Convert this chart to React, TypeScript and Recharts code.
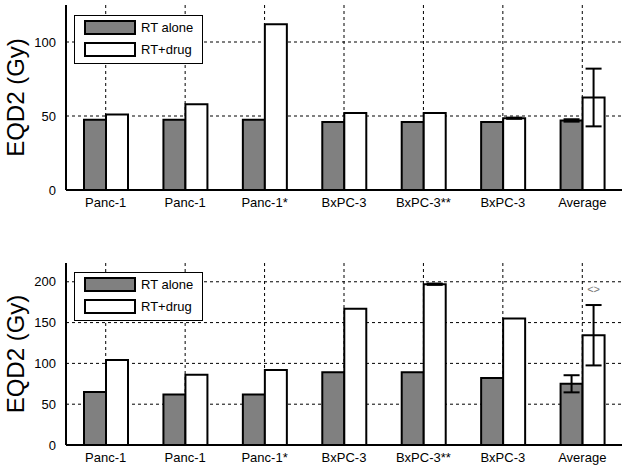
import React from "react";
import {
    BarChart,
    Bar,
    XAxis,
    YAxis,
    CartesianGrid,
    ErrorBar,
    Legend,
    LabelList,
} from "recharts";

// cell lines, same for both panels
const categories = [
    "Panc-1",
    "Panc-1",
    "Panc-1*",
    "BxPC-3",
    "BxPC-3**",
    "BxPC-3",
    "Average",
];

// top panel
const topAlone = [47.5, 47.5, 47.5, 46, 46, 46, 47];
const topDrug = [51, 58, 112, 52, 52, 48.5, 62.5];
const topAloneErr = [0, 0, 0, 0, 0, 0, 0.8];
const topDrugErr = [0, 0, 0, 0, 0, 0.4, 19.5];
const topTicks = [0, 50, 100];

// bottom panel
const botAlone = [65, 62, 62, 89, 89, 82, 75];
const botDrug = [104, 86, 92, 167, 197, 155, 134.5];
const botAloneErr = [0, 0, 0, 0, 0, 0, 10.5];
const botDrugErr = [0, 0, 0, 0, 0.8, 0, 37];
const botNotes = ["", "", "", "", "", "", "<>"];
const botTicks = [0, 50, 100, 150, 200];

const FONT = "'Liberation Sans', Arial, sans-serif";

function buildRows(
    alone: number[],
    drug: number[],
    aloneErr: number[],
    drugErr: number[],
    notes?: string[]
) {
    return categories.map((name, i) => ({
        name,
        alone: alone[i],
        drug: drug[i],
        aloneErr: aloneErr[i],
        drugErr: drugErr[i],
        note: notes ? notes[i] : "",
    }));
}

const LegendBox = (props: any) => {
    const payload = props.payload ?? [];
    return (
        <div
            style={{
                border: "1px solid #000",
                background: "#fff",
                width: 118,
                padding: "4px 0 6px 9px",
                boxSizing: "content-box",
                fontFamily: FONT,
                fontSize: 13,
                textAlign: "left",
            }}
        >
            {payload.map((p: any, i: number) => (
                <div
                    key={i}
                    style={{
                        display: "flex",
                        alignItems: "center",
                        marginTop: i === 0 ? 0 : 7,
                        height: 15,
                    }}
                >
                    <div
                        style={{
                            width: 48,
                            height: 11,
                            border: "2px solid #000",
                            background: p.color,
                        }}
                    />
                    <span style={{ marginLeft: 5, color: "#000" }}>
                        {p.value}
                    </span>
                </div>
            ))}
        </div>
    );
};

const YLabel = (props: any) => {
    const vb = props.viewBox ?? {};
    const cy = vb.y + vb.height / 2;
    return (
        <text
            x={15}
            y={cy}
            transform={`rotate(-90, 15, ${cy})`}
            textAnchor="middle"
            dominantBaseline="central"
            fontFamily={FONT}
            fontSize={24}
            fill="#000"
        >
            EQD2 (Gy)
        </text>
    );
};

const NoteLabel = (props: any) => {
    const { x, y, width, value } = props;
    if (!value) return null;
    return (
        <text
            x={x + width / 2}
            y={y - 42}
            textAnchor="middle"
            fontFamily={FONT}
            fontSize={11}
            fill="#777"
        >
            {value}
        </text>
    );
};

type PanelProps = {
    rows: any[];
    max: number;
    ticks: number[];
    height: number;
    marginTop: number;
    marginBottom: number;
    legendTop: number;
    withNote?: boolean;
};

function Panel({
    rows,
    max,
    ticks,
    height,
    marginTop,
    marginBottom,
    legendTop,
    withNote,
}: PanelProps) {
    return (
        <BarChart
            width={629}
            height={height}
            data={rows}
            margin={{ top: marginTop, right: 7, bottom: marginBottom, left: 0 }}
            barGap={0}
            barSize={22}
        >
            <CartesianGrid
                stroke="#000"
                strokeDasharray="3 3"
                strokeWidth={1}
                syncWithTicks
            />
            <XAxis
                dataKey="name"
                height={20}
                tickLine={false}
                axisLine={{ stroke: "#000", strokeWidth: 2 }}
                tick={{ fill: "#000", fontSize: 13, fontFamily: FONT }}
                tickMargin={2}
                interval={0}
            />
            <YAxis
                width={66}
                domain={[0, max]}
                ticks={ticks}
                tickLine={false}
                axisLine={{ stroke: "#000", strokeWidth: 2 }}
                tick={{ fill: "#000", fontSize: 13, fontFamily: FONT }}
                tickMargin={4}
                label={<YLabel />}
            />
            <Legend
                layout="horizontal"
                align="center"
                verticalAlign="middle"
                content={<LegendBox />}
                wrapperStyle={{
                    left: 74,
                    top: legendTop,
                    width: "auto",
                    height: "auto",
                }}
            />
            <Bar
                dataKey="alone"
                name="RT alone"
                fill="#808080"
                stroke="#000"
                strokeWidth={2}
                isAnimationActive={false}
            >
                <ErrorBar
                    dataKey="aloneErr"
                    width={8}
                    stroke="#000"
                    strokeWidth={2}
                />
            </Bar>
            <Bar
                dataKey="drug"
                name="RT+drug"
                fill="#ffffff"
                stroke="#000"
                strokeWidth={2}
                isAnimationActive={false}
            >
                <ErrorBar
                    dataKey="drugErr"
                    width={8}
                    stroke="#000"
                    strokeWidth={2}
                />
                {withNote ? (
                    <LabelList dataKey="note" content={<NoteLabel />} />
                ) : null}
            </Bar>
        </BarChart>
    );
}

export default function App() {
    const topRows = buildRows(topAlone, topDrug, topAloneErr, topDrugErr);
    const botRows = buildRows(
        botAlone,
        botDrug,
        botAloneErr,
        botDrugErr,
        botNotes
    );

    return (
        <div
            style={{
                position: "absolute",
                left: 0,
                top: 0,
                width: 629,
                height: 471,
                background: "#fff",
            }}
        >
            <div style={{ position: "absolute", left: 0, top: 0 }}>
                <Panel
                    rows={topRows}
                    max={125}
                    ticks={topTicks}
                    height={220}
                    marginTop={5}
                    marginBottom={10}
                    legendTop={15}
                />
            </div>
            <div style={{ position: "absolute", left: 0, top: 240 }}>
                <Panel
                    rows={botRows}
                    max={223}
                    ticks={botTicks}
                    height={231}
                    marginTop={23}
                    marginBottom={6}
                    legendTop={32}
                    withNote
                />
            </div>
        </div>
    );
}
